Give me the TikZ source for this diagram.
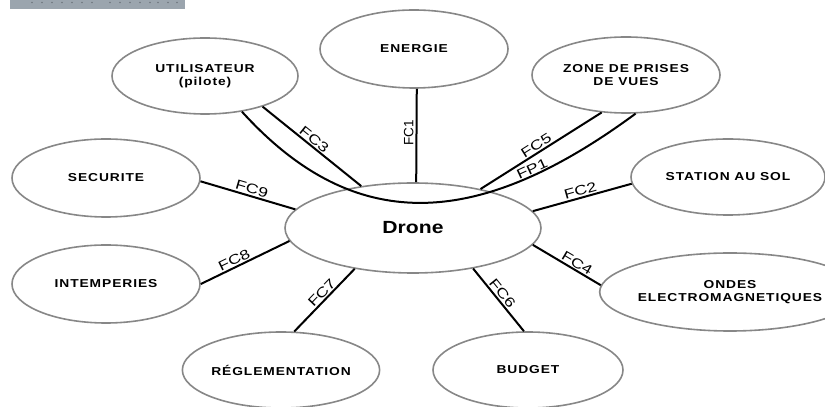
\documentclass[tikz,border=0pt]{standalone}
\usepackage{fontspec}
\setmainfont{Liberation Sans}
\newfontfamily\boxfont[FakeStretch=1.2,LetterSpace=8]{Liberation Sans}
\newfontfamily\dronefont[FakeStretch=1.2]{Liberation Sans}
\newfontfamily\lblfont[FakeStretch=1.3]{Liberation Sans}
\newfontfamily\vlblfont{Liberation Sans}
\usetikzlibrary{shapes.geometric}
\definecolor{ellgrey}{RGB}{135,135,135}
\definecolor{bargrey}{RGB}{155,165,174}
\definecolor{dotgrey}{RGB}{110,118,126}
\tikzset{
  ell/.style={ellipse, draw=ellgrey, line width=1.6pt, fill=white, inner sep=0pt, align=center,
    font=\boxfont\bfseries\fontsize{11.5}{13.5}\selectfont},
  conn/.style={line width=2pt, black},
  lbl/.style={font=\lblfont\fontsize{13.5}{14}\selectfont, inner sep=1.2pt, sloped, above},
}
\begin{document}
\begin{tikzpicture}[x=1pt,y=1pt]
\useasboundingbox (0,0) rectangle (825,407);
\clip (0,0) rectangle (825,407);
% logo remnant
\fill[bargrey] (10,398) rectangle (185,407);
\foreach \d in {32,42,52,62,72,82,92,110,120,130,140,150,158,168,177}
  \fill[dotgrey] (\d,404.5) circle (0.9);
% nodes
\node[ell, minimum width=256, minimum height=90, font=\dronefont\bfseries\fontsize{17.6}{20}\selectfont] (drone) at (413,179) {Drone};
\node[ell, minimum width=188, minimum height=78] (energie) at (414,358) {ENERGIE};
\node[ell, minimum width=186, minimum height=76] (util) at (205,331) {UTILISATEUR\\(pilote)};
\node[ell, minimum width=188, minimum height=76] (zone) at (626,332) {ZONE DE PRISES\\DE VUES};
\node[ell, minimum width=188, minimum height=78] (secu) at (106,229) {SECURITE};
\node[ell, minimum width=188, minimum height=78] (intemp) at (106,123) {INTEMPERIES};
\node[ell, minimum width=194, minimum height=76] (station) at (728,230) {STATION AU SOL};
\node[ell, minimum width=194, minimum height=78] (ondes) at (730,115) {ONDES\\ELECTROMAGNETIQUES};
\node[ell, minimum width=188, minimum height=76] (regle) at (281,37) {RÉGLEMENTATION};
\node[ell, minimum width=190, minimum height=76] (budget) at (528,37) {BUDGET};
% curve control points
\coordinate (fpa) at (353,173);
\coordinate (fpb) at (475,175);
% connectors
\draw[conn] (drone.86) -- node[pos=0.53, rotate=90, anchor=south, inner sep=2pt, font=\vlblfont\fontsize{13.5}{14}\selectfont] {FC1} (energie.-86);
\draw[conn] (util.-28) -- node[pos=0.48, lbl] {FC3} (drone.141);
\draw[conn] (drone.30) -- node[pos=0.49, lbl] {FC5} (zone.-123);
\draw[conn] (util.-44) .. controls (fpa) and (fpb) .. node[pos=0.78, lbl] {FP1} (zone.-76);
\draw[conn] (secu.-2) -- node[pos=0.52, lbl] {FC9} (drone.171);
\draw[conn] (intemp.0.6) -- node[pos=0.41, lbl] {FC8} (drone.-174.5);
\draw[conn] (drone.8) -- node[pos=0.5, lbl] {FC2} (station.-176.4);
\draw[conn] (drone.-8) -- node[pos=0.6, lbl] {FC4} (ondes.177);
\draw[conn] (drone.-34) -- node[pos=0.47, lbl] {FC6} (budget.96);
\draw[conn] (regle.71) -- node[pos=0.54, lbl] {FC7} (drone.-145);
\end{tikzpicture}
\end{document}
